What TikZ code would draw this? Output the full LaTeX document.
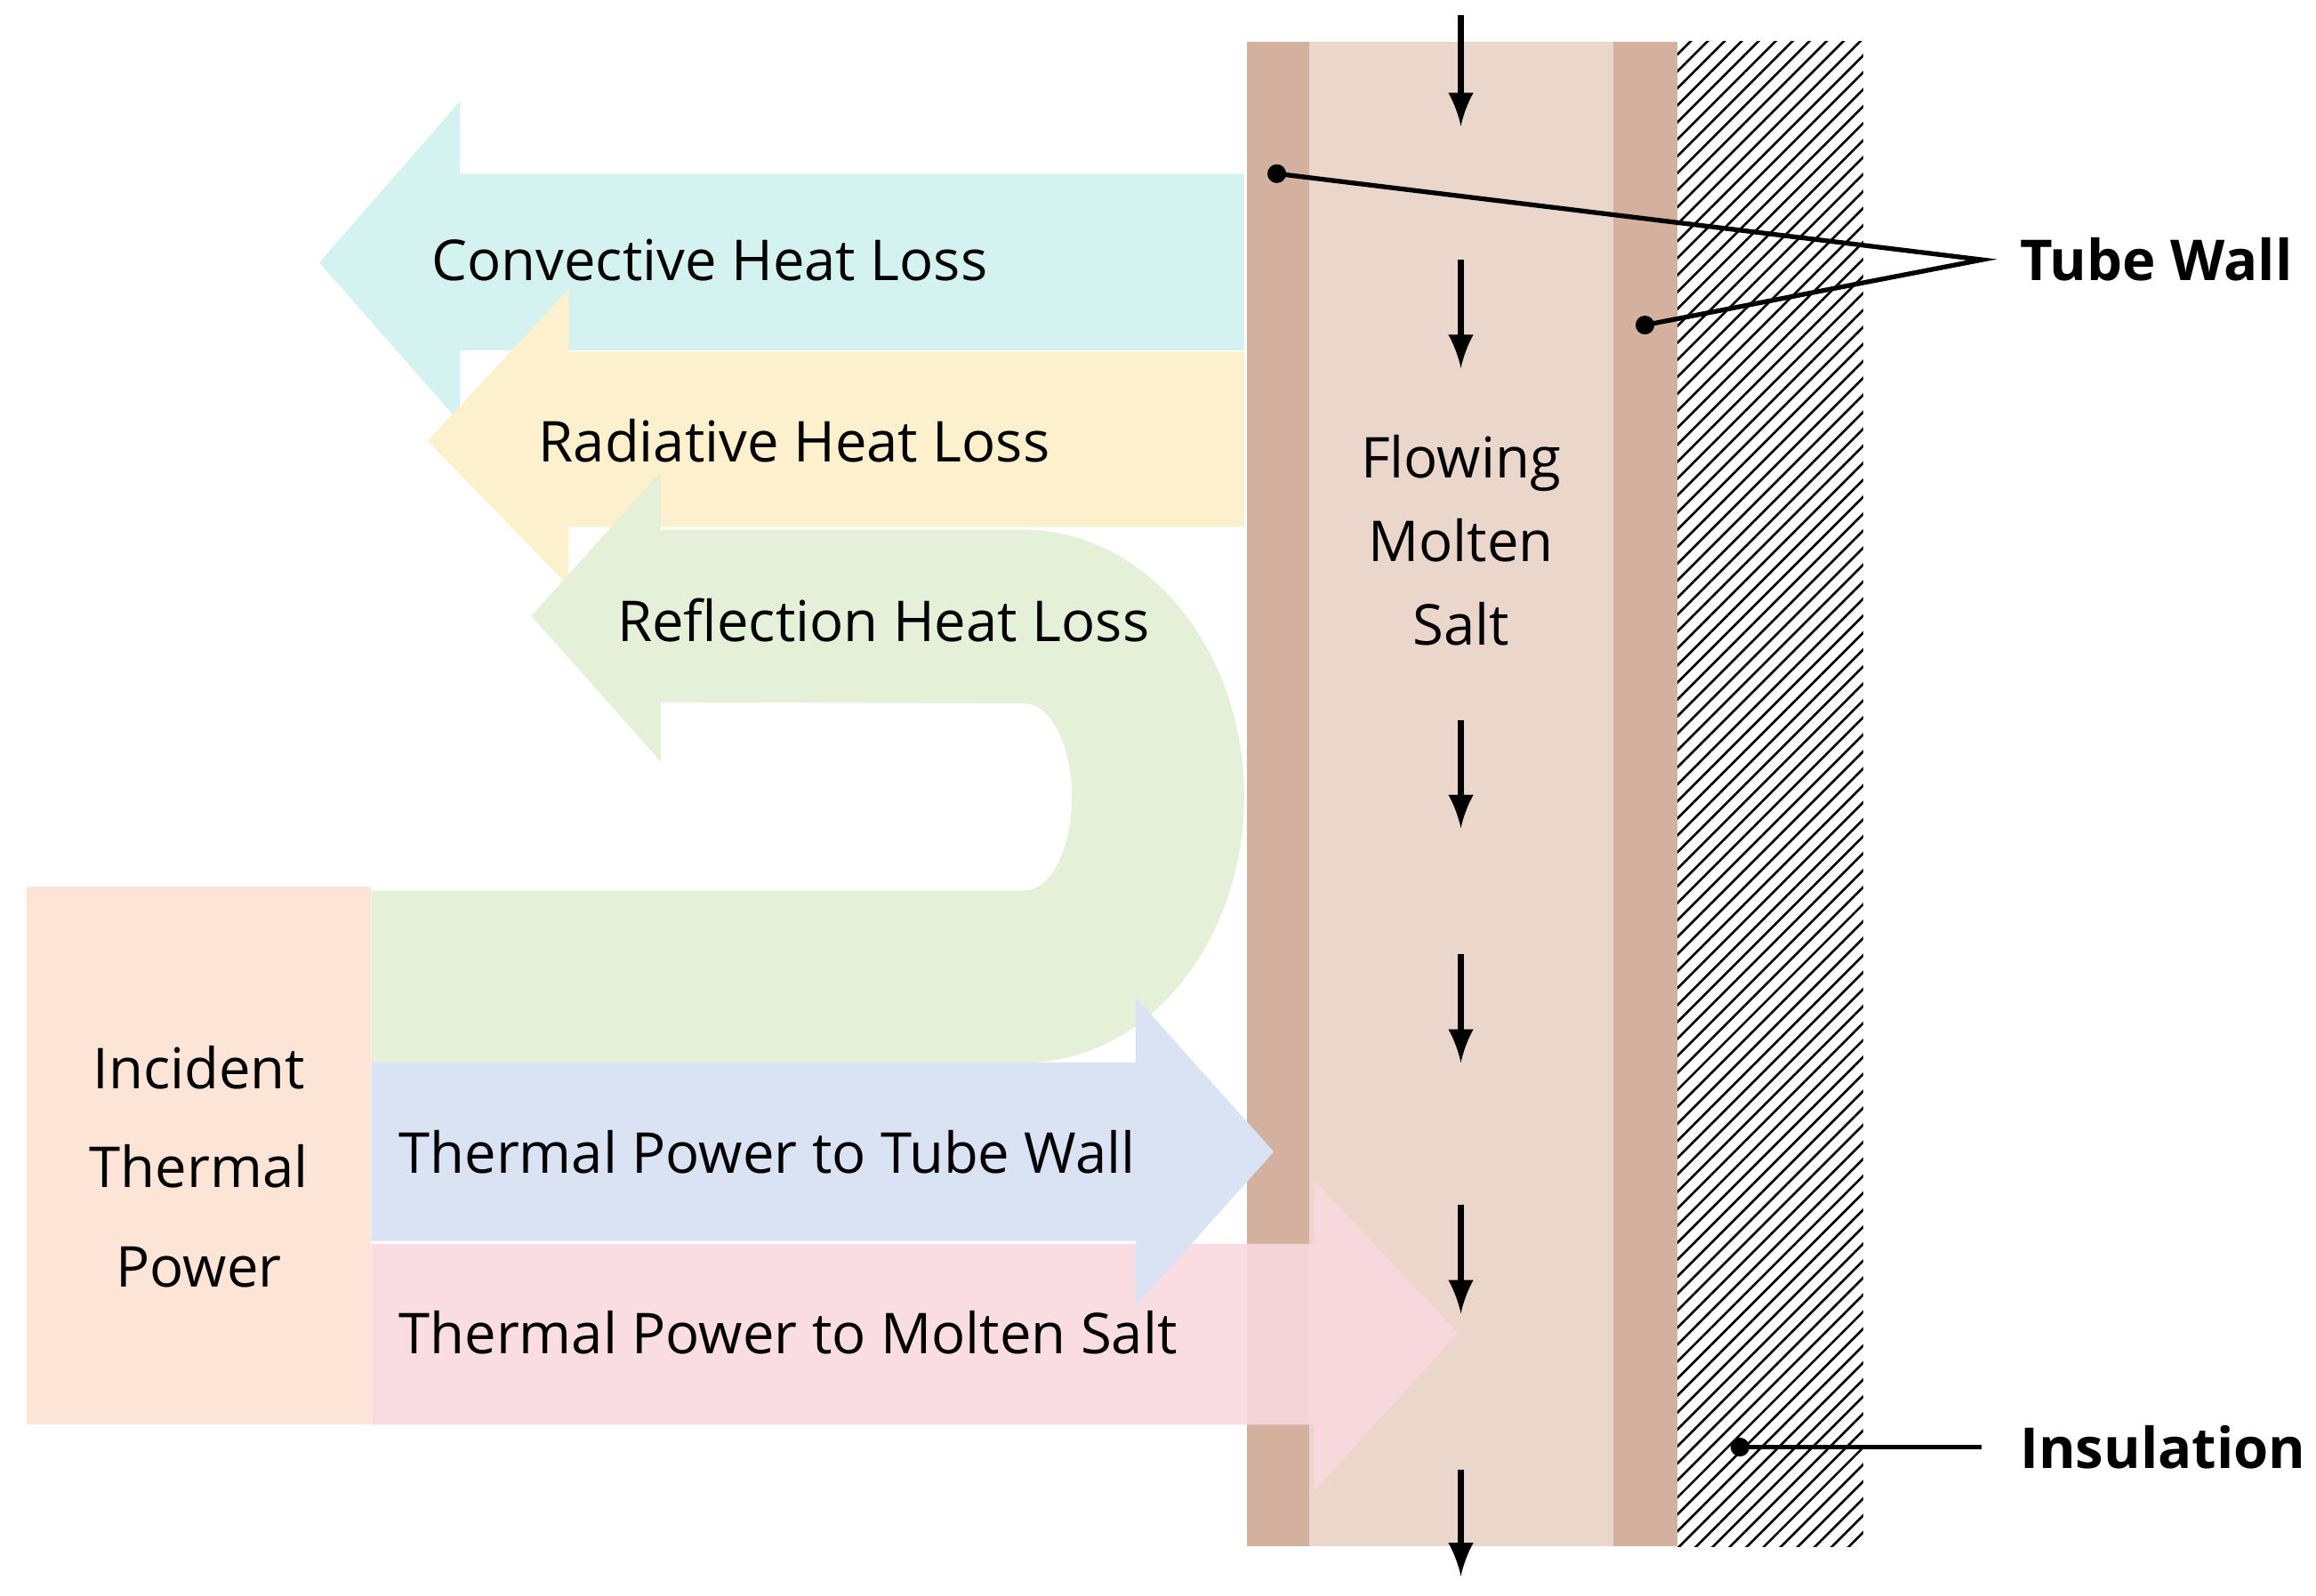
\documentclass[tikz,border=0pt]{standalone}
\usepackage{fontspec}
\setmainfont{Open Sans}
\usetikzlibrary{patterns.meta}
\definecolor{wall-brown}{RGB}{212,176,158}
\definecolor{salt-pink}{RGB}{234,214,202}
\definecolor{conv-cyan}{RGB}{212,243,240}
\definecolor{rad-yellow}{RGB}{253,240,204}
\definecolor{refl-green}{RGB}{229,240,216}
\definecolor{wall-blue}{RGB}{218,227,243}
\definecolor{salt-rose}{RGB}{249,217,223}
\definecolor{inc-peach}{RGB}{252,228,214}
\tikzset{
	label/.style={font=\fontsize{10.8}{13}\selectfont,inner sep=0pt},
	tag/.style={font=\fontsize{10.8}{13}\selectfont\bfseries,inner sep=0pt},
	flow/.style={-latex,line width=1.2pt},
	pointer/.style={line width=0.9pt}
}
\begin{document}
\begin{tikzpicture}[x=0.01cm,y=-0.01cm]
			\useasboundingbox (0,0) rectangle (1560,1075);					% frame
			\fill [wall-brown] (840,28) rectangle (882,1042);				% left tube wall
			\fill [salt-pink] (882,28) rectangle (1087,1042);				% molten salt
			\fill [wall-brown] (1087,28) rectangle (1130,1042);				% right tube wall
			\fill [pattern={Lines[angle=45,distance=2.3pt,line width=0.45pt]}] (1130,28) rectangle (1255,1042);	% insulation
			\foreach \a/\b in {10/85,175/248,485/558,643/716,812/885,990/1062}{	% flow arrows
				\draw [flow] (984,\a) -- (984,\b);
			}
			\node[label,align=center] (salt) at (984,364) {Flowing\\[3pt]Molten\\[3pt]Salt};
			% reflection loop
			\fill [refl-green] (250,600) -- (690,600) arc [start angle=90,end angle=-90,x radius=32,y radius=63]
				-- (445,473) -- (445,513) -- (358,415) -- (445,318) -- (445,357) -- (690,357)
				arc [start angle=-90,end angle=90,x radius=148,y radius=179.5] -- (250,716) -- cycle;
			\fill [conv-cyan] (838,117) -- (310,117) -- (310,68) -- (215,177) -- (310,285) -- (310,236) -- (838,236) -- cycle;	% convective
			\fill [rad-yellow] (838,237) -- (383,237) -- (383,195) -- (288,297) -- (383,395) -- (383,355) -- (838,355) -- cycle;	% radiative
			\fill [refl-green] (690,357) -- (445,357) -- (445,318) -- (358,415) -- (445,513) -- (445,473) -- (690,473) -- cycle;	% reflection head
			\fill [salt-rose,fill opacity=0.9] (250,838) -- (885,838) -- (885,795) -- (982,898) -- (885,1005) -- (885,960) -- (250,960) -- cycle;	% to salt
			\fill [wall-blue] (250,716) -- (765,716) -- (765,672) -- (858,776) -- (765,880) -- (765,836) -- (250,836) -- cycle;	% to wall
			\fill [inc-peach] (18,597) rectangle (250,960);					% incident box
			\node[label] (conv) at (478,175) {Convective Heat Loss};
			\node[label] (rad) at (535,297) {Radiative Heat Loss};
			\node[label] (refl) at (595,418) {Reflection Heat Loss};
			\node[label,anchor=west] (towall) at (268,776) {Thermal Power to Tube Wall};
			\node[label,anchor=west] (tosalt) at (268,898) {Thermal Power to Molten Salt};
			\node[label,align=center] (inc) at (134,786) {Incident\\[6pt]Thermal\\[6pt]Power};
			\node[tag,anchor=west] (tube) at (1360,175) {Tube Wall};
			\node[tag,anchor=west] (insul) at (1360,975) {Insulation};
			\coordinate (fork) at (1335,175);
			\coordinate (lwall) at (860,117);
			\coordinate (rwall) at (1108,219);
			\coordinate (ins) at (1172,975);
			\draw [pointer] (lwall) -- (fork) -- (rwall);					% wall pointers
			\draw [pointer] (ins) -- (1335,975);						% insulation pointer
			\foreach \p in {lwall,rwall,ins}{
				\fill (\p) circle (1.8pt);
			}
		\end{tikzpicture}
\end{document}
